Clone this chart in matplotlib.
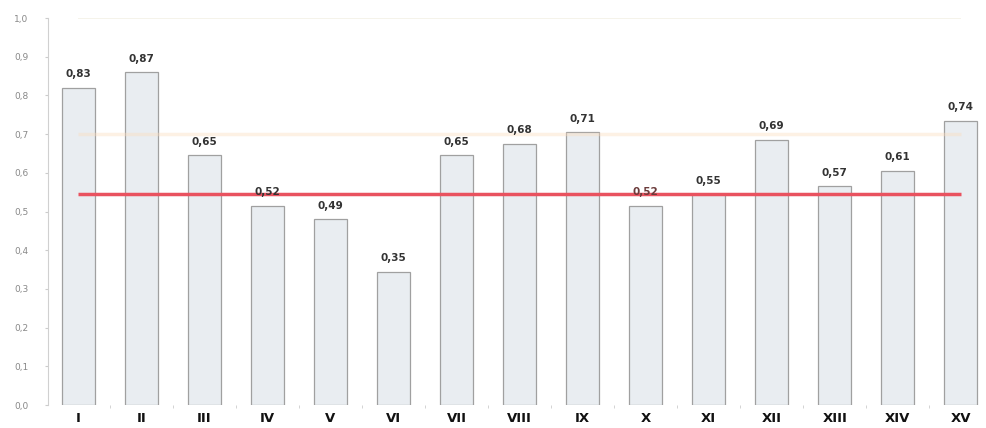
import numpy as np
import matplotlib.pyplot as plt

# values
categories = ["I", "II", "III", "IV", "V", "VI", "VII", "VIII",
              "IX", "X", "XI", "XII", "XIII", "XIV", "XV"]
values = [0.82, 0.86, 0.645, 0.515, 0.48, 0.345, 0.645, 0.675,
          0.705, 0.515, 0.545, 0.685, 0.565, 0.605, 0.735]
labels = ["0,83", "0,87", "0,65", "0,52", "0,49", "0,35", "0,65", "0,68",
          "0,71", "0,52", "0,55", "0,69", "0,57", "0,61", "0,74"]
red_level = 0.545
orange_level = 0.70
yticks = [0.0, 0.1, 0.2, 0.3, 0.4, 0.5, 0.6, 0.7, 0.8, 0.9, 1.0]

x = np.arange(len(categories))

fig = plt.figure(figsize=(9.86, 4.28), dpi=100)
ax = fig.add_axes([0.0487, 0.0537, 0.95, 0.904])

ax.bar(x, values, width=0.53, color="#e9edf1", edgecolor="#a0a0a0",
       linewidth=0.9, zorder=2)

# reference lines
ax.hlines(orange_level, x[0], x[-1], color="#fcdcbc", linewidth=2.5,
          alpha=0.4, zorder=3)
ax.hlines(red_level, x[0], x[-1], color="#e9525f", linewidth=2.5, zorder=4)
ax.hlines(1.0, x[0], x[-1], color="#f4f1e6", linewidth=1.2, zorder=1)

for xi, v, lab in zip(x, values, labels):
    col = "#6b3b3b" if xi == 9 else "#333333"
    ax.text(xi, v + 0.022, lab, ha="center", va="bottom", fontsize=7.5,
            fontweight="bold", color=col, zorder=5)

ax.set_xlim(-0.48, 14.38)
ax.set_ylim(0, 1.0)
ax.set_yticks(yticks)
ax.set_yticklabels([f"{t:.1f}".replace(".", ",") for t in yticks],
                   fontsize=6.5, color="#888888")
ax.set_xticks(x)
ax.set_xticklabels(categories, fontsize=9.5, fontweight="bold",
                   color="#111111")
ax.set_xticks(x[:-1] + 0.5, minor=True)
ax.tick_params(axis="x", which="major", length=0, pad=5)
ax.tick_params(axis="x", which="minor", length=2, color="#cccccc")
ax.tick_params(axis="y", length=2, color="#cccccc", pad=12)

for s in ["top", "right", "bottom"]:
    ax.spines[s].set_visible(False)
ax.spines["left"].set_color("#d0d0d0")

plt.savefig("out.png", dpi=100)
